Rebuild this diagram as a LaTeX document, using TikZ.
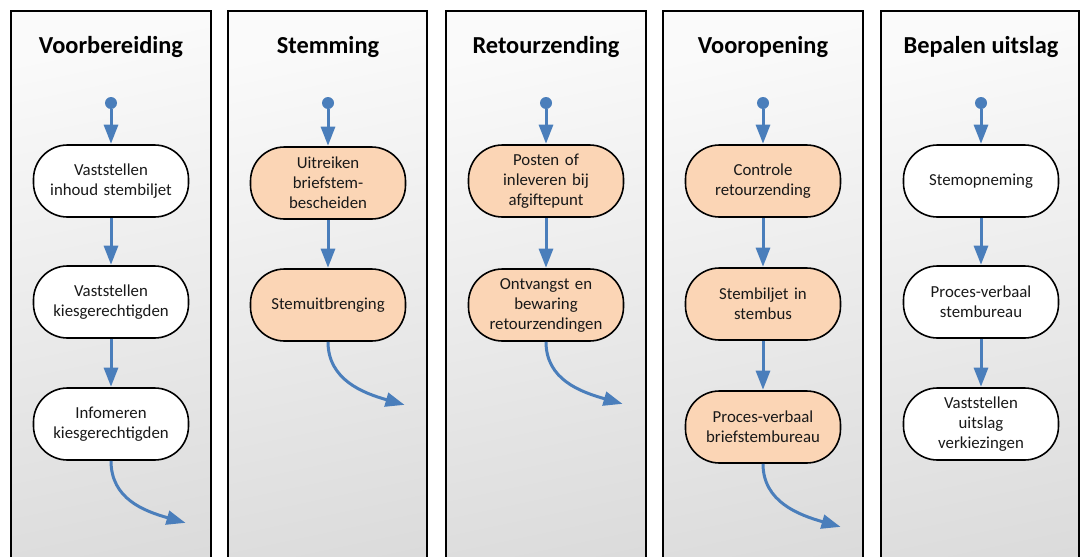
\documentclass[tikz,border=0pt]{standalone}
\usepackage{fontspec}
\setmainfont{Carlito}
\usetikzlibrary{arrows.meta}
\definecolor{flowblue}{RGB}{74,126,187}
\definecolor{peach}{RGB}{251,213,181}
\tikzset{
  lane/.style={draw=black, line width=2.8pt, top color=black!2, bottom color=black!14, shading angle=12},
  lanetitle/.style={font=\fontsize{24.4}{28}\selectfont\bfseries, text=black, anchor=center},
  act/.style={draw=black, line width=1.6pt, fill=white, rounded corners=34pt, minimum width=155pt, minimum height=72pt, inner sep=2pt, align=center, text width=150pt, font=\fontsize{16.8}{20}\selectfont, text=black!90},
  actor/.style={act, fill=peach},
  startdot/.style={circle, fill=flowblue, inner sep=0pt, minimum size=12pt},
  flow/.style={draw=flowblue, line width=3pt, -{Triangle[width=14pt,length=19pt]}, shorten >=0.5pt},
}
\begin{document}
\begin{tikzpicture}[x=1pt,y=-1pt]
\useasboundingbox (0,0) rectangle (1080,557);
\begin{scope}
\clip (0,0) rectangle (1080,557);
\path[lane] (11,11) rectangle (211,600);
\path[lane] (228,11) rectangle (427,600);
\path[lane] (446,11) rectangle (646,600);
\path[lane] (663,11) rectangle (863,600);
\path[lane] (881,11) rectangle (1079,600);
\end{scope}
% titles
\node[lanetitle] (t1) at (111,47) {Voorbereiding};
\node[lanetitle] (t2) at (328,47) {Stemming};
\node[lanetitle] (t3) at (546,47) {Retourzending};
\node[lanetitle] (t4) at (763,47) {Vooropening};
\node[lanetitle] (t5) at (981,47) {Bepalen uitslag};
% start dots
\node[startdot] (s1) at (111,103) {};
\node[startdot] (s2) at (328,103) {};
\node[startdot] (s3) at (546,103) {};
\node[startdot] (s4) at (763,103) {};
\node[startdot] (s5) at (981,103) {};
% lane 1
\node[act] (a1) at (111,181) {Vaststellen\\inhoud stembiljet};
\node[act] (a2) at (111,302) {Vaststellen\\kiesgerechtigden};
\node[act] (a3) at (111,424) {Infomeren\\kiesgerechtigden};
% lane 2
\node[actor] (b1) at (328,183) {Uitreiken\\briefstem-\\bescheiden};
\node[actor] (b2) at (328,305) {Stemuitbrenging};
% lane 3
\node[actor] (c1) at (546,181) {Posten of\\inleveren bij\\afgiftepunt};
\node[actor] (c2) at (546,305) {Ontvangst en\\bewaring\\retourzendingen};
% lane 4
\node[actor] (d1) at (763,181) {Controle\\retourzending};
\node[actor] (d2) at (763,304) {Stembiljet in\\stembus};
\node[actor] (d3) at (763,427) {Proces-verbaal\\briefstembureau};
% lane 5
\node[act] (e1) at (981,181) {Stemopneming};
\node[act] (e2) at (981,302) {Proces-verbaal\\stembureau};
\node[act] (e3) at (981,424) {Vaststellen\\uitslag\\verkiezingen};
% exit coordinates
\coordinate (x1) at (186,523);
\coordinate (x2) at (405,405);
\coordinate (x3) at (623,404);
\coordinate (x4) at (841,527);
% flows
\draw[flow] (s1) -- (a1);
\draw[flow] (a1) -- (a2);
\draw[flow] (a2) -- (a3);
\draw[flow] (a3.south) .. controls +(0,38) and +(-42,-12) .. (x1);
\draw[flow] (s2) -- (b1);
\draw[flow] (b1) -- (b2);
\draw[flow] (b2.south) .. controls +(0,38) and +(-42,-12) .. (x2);
\draw[flow] (s3) -- (c1);
\draw[flow] (c1) -- (c2);
\draw[flow] (c2.south) .. controls +(0,38) and +(-42,-12) .. (x3);
\draw[flow] (s4) -- (d1);
\draw[flow] (d1) -- (d2);
\draw[flow] (d2) -- (d3);
\draw[flow] (d3.south) .. controls +(0,38) and +(-42,-12) .. (x4);
\draw[flow] (s5) -- (e1);
\draw[flow] (e1) -- (e2);
\draw[flow] (e2) -- (e3);
\end{tikzpicture}
\end{document}
